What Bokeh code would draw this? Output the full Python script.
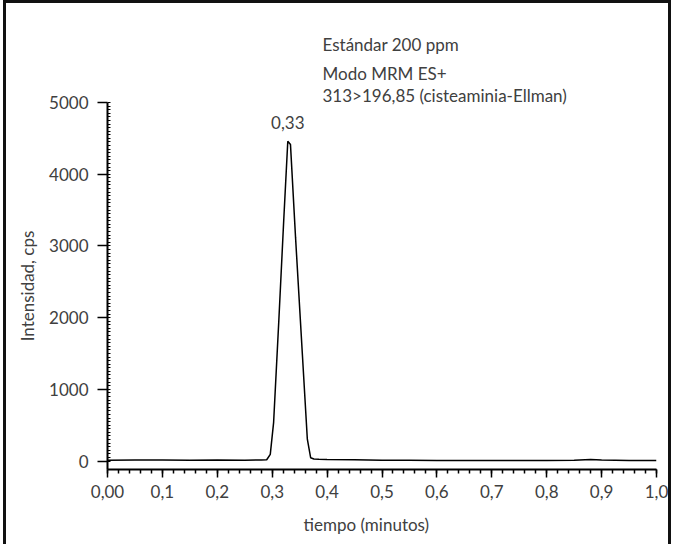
from bokeh.plotting import figure
from bokeh.models import Range1d, FixedTicker, Label, Title
from bokeh.embed import file_html
from bokeh.resources import INLINE

# ---- data ----
tiempo = [0.00, 0.05, 0.10, 0.15, 0.20, 0.25, 0.280, 0.290, 0.2965, 0.3026,
          0.312, 0.321, 0.3284, 0.3333, 0.3425, 0.355, 0.364, 0.370, 0.376,
          0.385, 0.40, 0.45, 0.50, 0.55, 0.60, 0.65, 0.70, 0.75, 0.80, 0.85,
          0.88, 0.90, 0.95, 1.00]
intensidad = [12, 14, 13, 12, 13, 12, 14, 18, 94, 540,
              1950, 3357, 4459, 4413, 3122, 1483, 304, 46, 28,
              25, 22, 18, 12, 10, 8, 8, 9, 8, 8, 10,
              22, 14, 9, 8]

x_ticks = [0.0, 0.1, 0.2, 0.3, 0.4, 0.5, 0.6, 0.7, 0.8, 0.9, 1.0]
x_tick_labels = ["0,00", "0,1", "0,2", "0,3", "0,4", "0,5", "0,6", "0,7", "0,8", "0,9", "1,0"]
y_ticks = [0, 1000, 2000, 3000, 4000, 5000]
y_tick_labels = ["0", "1000", "2000", "3000", "4000", "5000"]

peak_t = 0.3284
peak_i = 4459
peak_label = "0,33"
info_lines = ["Estándar 200 ppm", "Modo MRM ES+", "313>196,85 (cisteaminia-Ellman)"]
x_title = "tiempo (minutos)"
y_title = "Intensidad, cps"

FONT = "Lato"
TXT = "#404040"

p = figure(width=662, height=541, output_backend="svg", toolbar_location=None,
           x_range=Range1d(0, 1.0), y_range=Range1d(-118, 5000),
           min_border_left=101, min_border_right=18, min_border_top=99,
           min_border_bottom=78)
p.styles = {"box-sizing": "content-box", "transform": "translateX(3px)",
            "border-left": "3px solid #111", "border-top": "3px solid #111",
            "border-right": "3px solid #111"}

p.grid.visible = False
p.outline_line_color = None
p.background_fill_color = "white"
p.border_fill_color = "white"

p.line(tiempo, intensidad, line_color="black", line_width=1.5)

# x axis
xa = p.xaxis[0]
xa.ticker = FixedTicker(ticks=x_ticks,
                        minor_ticks=[round(i * 0.02, 2) for i in range(51)])
xa.major_label_overrides = {t: l for t, l in zip(x_ticks, x_tick_labels)}
xa.axis_line_width = 2
xa.axis_line_color = "black"
xa.major_tick_out = 8
xa.major_tick_in = 0
xa.minor_tick_out = 4
xa.minor_tick_in = 0
xa.major_tick_line_width = 1.5
xa.minor_tick_line_width = 1.5
xa.major_label_standoff = 7

# y axis
ya = p.yaxis[0]
ya.ticker = FixedTicker(ticks=y_ticks, minor_ticks=[i * 50 for i in range(101)])
ya.major_label_overrides = {t: l for t, l in zip(y_ticks, y_tick_labels)}
ya.axis_label = y_title
ya.axis_line_width = 2
ya.axis_line_color = "black"
ya.major_tick_out = 10
ya.major_tick_in = 0
ya.minor_tick_out = 0
ya.minor_tick_in = 3
ya.major_tick_line_width = 1.5
ya.minor_tick_line_width = 1.2
ya.major_label_standoff = 9
ya.axis_label_standoff = 8

for ax in (xa, ya):
    ax.major_label_text_font = FONT
    ax.major_label_text_font_size = "17px"
    ax.major_label_text_color = TXT
    ax.axis_label_text_font = FONT
    ax.axis_label_text_font_size = "17px"
    ax.axis_label_text_font_style = "normal"
    ax.axis_label_text_color = TXT
    ax.major_tick_line_color = "black"
    ax.minor_tick_line_color = "black"

# x-axis title, placed as a title below the axis (slightly left of centre)
p.add_layout(Title(text=x_title, align="left", offset=196, standoff=22,
                   text_font=FONT, text_font_size="17px",
                   text_font_style="normal", text_color=TXT), "below")

p.add_layout(Label(x=peak_t, y=peak_i, text=peak_label, y_offset=12,
                   text_align="center", text_baseline="bottom",
                   text_font=FONT, text_font_size="17px", text_color=TXT))

# titles added to "above" stack outward from the frame
standoffs = [-7, 6, 5]
for line, so in zip(info_lines[::-1], standoffs):
    p.add_layout(Title(text=line, align="left", offset=215, standoff=so,
                       text_font=FONT, text_font_size="17px",
                       text_font_style="normal", text_color=TXT), "above")

open("out.html", "w").write(file_html(p, INLINE))
